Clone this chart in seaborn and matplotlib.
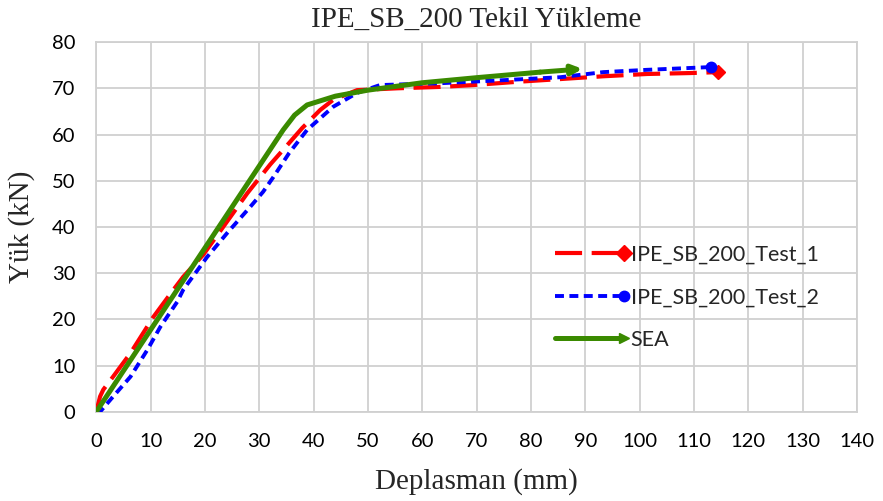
import numpy as np
import pandas as pd
import matplotlib
matplotlib.use("Agg")
import matplotlib.pyplot as plt
from matplotlib.lines import Line2D
from matplotlib.legend_handler import HandlerLine2D
import seaborn as sns

# DATA

test1_x = [0, 0.7, 1.3, 3.1, 6.3, 10.5, 14.2, 16.0, 19.7, 24.7, 27.8, 32.0, 35.0,
           37.9, 41.2, 43.6, 48.0, 55.4, 63.3, 69.4, 77.4, 85.4, 93.3, 101.4, 109.3, 114.5]
test1_y = [0, 3.3, 4.8, 7.6, 12.7, 20.5, 26.4, 29.2, 34.0, 42.2, 47.3, 53.5, 57.5,
           61.4, 65.3, 67.5, 69.6, 70.0, 70.3, 70.7, 71.4, 72.0, 72.6, 73.1, 73.3, 73.5]

test2_x = [0, 0.7, 3.1, 6.3, 9.4, 11.8, 14.9, 16.0, 20.4, 24.1, 28.3, 30.7, 32.6,
           35.5, 38.8, 43.6, 48.0, 52.2, 63.3, 75.6, 85.4, 93.3, 101.4, 109.3, 113.2]
test2_y = [0, 0, 3.3, 7.6, 13.4, 18.4, 23.8, 26.4, 33.5, 38.7, 44.3, 47.6, 50.8,
           56.0, 61.0, 66.0, 69.0, 70.7, 71.1, 71.8, 72.4, 73.5, 74.0, 74.4, 74.6]

sea_x = [0, 34.4, 36.5, 38.8, 44.0, 50.0, 60.0, 70.0, 81.7, 89.5]
sea_y = [0, 61.0, 64.2, 66.4, 68.3, 69.6, 71.2, 72.3, 73.5, 74.2]

labels = ["IPE_SB_200_Test_1", "IPE_SB_200_Test_2", "SEA"]
x_ticks = list(range(0, 141, 10))
y_ticks = list(range(0, 81, 10))

RED = "#ff0000"
BLUE = "#0000ff"
GREEN = "#3a8a00"

df1 = pd.DataFrame({"x": test1_x, "y": test1_y})
df2 = pd.DataFrame({"x": test2_x, "y": test2_y})
df3 = pd.DataFrame({"x": sea_x, "y": sea_y})

sns.set_style("white")
tick_font = "Lato"
serif_font = "Liberation Serif"


class EndMarker(HandlerLine2D):
    # put the legend marker on the right end of the sample line
    def create_artists(self, *args, **kwargs):
        artists = super().create_artists(*args, **kwargs)
        for a in artists:
            if isinstance(a, Line2D) and len(a.get_xdata()) == 3:
                a.set_markevery([2])
        return artists


fig, ax = plt.subplots(figsize=(8.83, 5.01), dpi=100)
fig.subplots_adjust(left=0.109, right=0.9706, top=0.916, bottom=0.178)

red_style = dict(color=RED, lw=3.0, dashes=(6.5, 2.3))
blue_style = dict(color=BLUE, lw=2.8, dashes=(2.3, 1.4))
green_style = dict(color=GREEN, lw=3.6)

sns.lineplot(data=df1, x="x", y="y", sort=False, estimator=None, ax=ax,
             zorder=3, **red_style)
sns.lineplot(data=df2, x="x", y="y", sort=False, estimator=None, ax=ax,
             zorder=4, **blue_style)
sns.lineplot(data=df3.iloc[:-1], x="x", y="y", sort=False, estimator=None, ax=ax,
             zorder=5, **green_style)

# end markers
ax.plot(test1_x[-1], test1_y[-1], marker="D", color=RED, ms=7.5, zorder=6)
ax.plot(test2_x[-1], test2_y[-1], marker="o", color=BLUE, ms=7.5, zorder=6)

# SEA arrow head on last segment
ax.annotate("", xy=(sea_x[-1], sea_y[-1]), xytext=(sea_x[-2], sea_y[-2]),
            arrowprops=dict(arrowstyle="-|>,head_length=0.6,head_width=0.28",
                            color=GREEN, lw=3.6, shrinkA=0, shrinkB=0),
            zorder=5)

ax.set_xlim(0, 140)
ax.set_ylim(0, 80)
ax.set_xticks(x_ticks)
ax.set_yticks(y_ticks)
ax.grid(True, color="#d0d0d0", lw=1.3)
for s in ax.spines.values():
    s.set_color("#d0d0d0")
    s.set_linewidth(1.3)
ax.tick_params(length=0, labelsize=14.5, colors="black")
ax.tick_params(axis="x", pad=15)
ax.tick_params(axis="y", pad=15)
for t in ax.get_xticklabels() + ax.get_yticklabels():
    t.set_fontfamily(tick_font)

ax.set_xlabel("Deplasman (mm)", fontsize=21, family=serif_font, labelpad=13)
ax.set_ylabel("Yük (kN)", fontsize=21, family=serif_font, labelpad=12)
ax.set_title("IPE_SB_200 Tekil Yükleme", fontsize=21, family=serif_font, pad=11)

handles = [
    Line2D([], [], marker="D", ms=8, **red_style),
    Line2D([], [], marker="o", ms=7.5, **blue_style),
    Line2D([], [], marker=">", ms=7.5, **green_style),
]
ax.legend(handles, labels, loc="center left", bbox_to_anchor=(0.578, 0.31),
          frameon=False, prop={"family": tick_font, "size": 15.5},
          handlelength=3.2, handletextpad=0.3, labelspacing=1.05,
          handler_map={Line2D: EndMarker(numpoints=1)})

plt.savefig("out.png", dpi=100)
